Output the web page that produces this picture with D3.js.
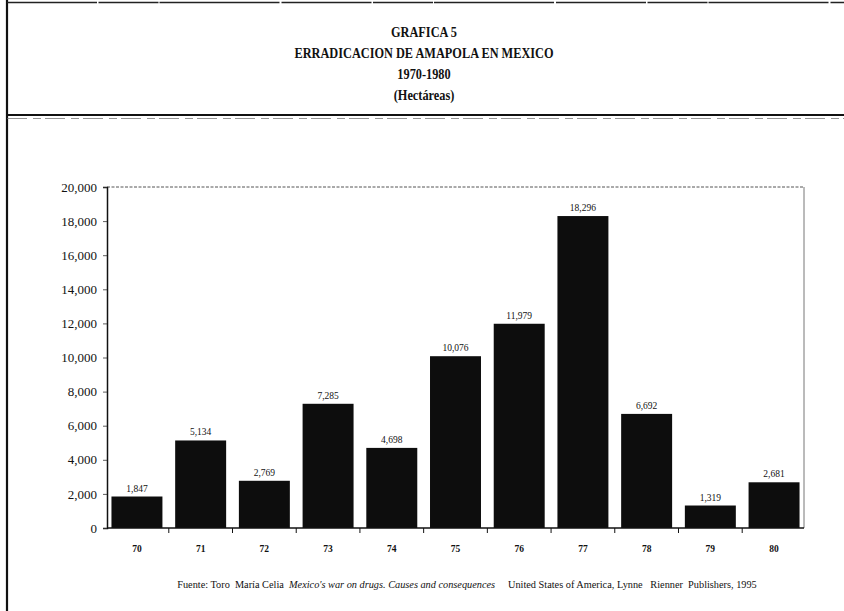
<!DOCTYPE html>
<html>
<head>
<meta charset="utf-8">
<script src="https://cdn.jsdelivr.net/npm/d3@7"></script>
<style>
  html, body { margin: 0; padding: 0; background: #fff; }
  svg { display: block; }
</style>
</head>
<body>
<svg id="chart" width="844" height="611"></svg>
<script>
// Erradicación de amapola en México, 1970-1980 (hectáreas)
const years = ["70", "71", "72", "73", "74", "75", "76", "77", "78", "79", "80"];
const hectares = [1847, 5134, 2769, 7285, 4698, 10076, 11979, 18296, 6692, 1319, 2681];
const yTicks = [0, 2000, 4000, 6000, 8000, 10000, 12000, 14000, 16000, 18000, 20000];
const titleLines = ["GRAFICA 5", "ERRADICACION DE AMAPOLA EN MEXICO", "1970-1980", "(Hectáreas)"];

const svg = d3.select("#chart");
const serif = "'Liberation Serif', 'DejaVu Serif', serif";
const ink = "#111";

// page frame: left rule, top rule and the double rule under the title block
svg.append("line").attr("x1", 7).attr("x2", 7).attr("y1", 0).attr("y2", 611)
  .attr("stroke", ink).attr("stroke-width", 2.2);
svg.append("line").attr("x1", 7).attr("x2", 844).attr("y1", 2.5).attr("y2", 2.5)
  .attr("stroke", "#222").attr("stroke-width", 1.3).attr("stroke-dasharray", "90,1.5,60,1,120,2");
svg.append("line").attr("x1", 7).attr("x2", 844).attr("y1", 115).attr("y2", 115)
  .attr("stroke", ink).attr("stroke-width", 2);
svg.append("line").attr("x1", 7).attr("x2", 844).attr("y1", 118.5).attr("y2", 118.5)
  .attr("stroke", "#666").attr("stroke-width", 0.7).attr("stroke-dasharray", "20,6,8,4");

// title block, set in a slightly condensed bold serif
svg.append("g").attr("transform", "translate(424,0) scale(0.88,1)")
  .selectAll("text").data(titleLines).join("text")
  .attr("x", 0).attr("y", (d, i) => 37 + i * 21)
  .attr("text-anchor", "middle")
  .attr("font-family", serif).attr("font-weight", "bold").attr("font-size", 14)
  .attr("fill", ink)
  .text(d => d);

// plot geometry
const plot = { left: 107, right: 804, top: 187, bottom: 528 };

const x = d3.scaleBand().domain(years)
  .range([plot.left, plot.right])
  .paddingInner(0.2).paddingOuter(0.07);
const y = d3.scaleLinear().domain([0, 20000]).range([plot.bottom, plot.top]);

// frame of the plot area: dotted top and thin right edge
svg.append("line").attr("x1", plot.left).attr("x2", plot.right)
  .attr("y1", plot.top).attr("y2", plot.top)
  .attr("stroke", "#555").attr("stroke-width", 1).attr("stroke-dasharray", "3,1.5");
svg.append("line").attr("x1", plot.right).attr("x2", plot.right)
  .attr("y1", plot.top).attr("y2", plot.bottom)
  .attr("stroke", "#777").attr("stroke-width", 1);

// bars
svg.append("g").selectAll("rect").data(years).join("rect")
  .attr("x", d => x(d))
  .attr("width", x.bandwidth())
  .attr("y", (d, i) => y(hectares[i]))
  .attr("height", (d, i) => y(0) - y(hectares[i]))
  .attr("fill", "#0d0d0d");

// value labels above each bar
const fmt = d3.format(",");
svg.append("g").selectAll("text").data(years).join("text")
  .attr("x", d => x(d) + x.bandwidth() / 2)
  .attr("y", (d, i) => y(hectares[i]) - 5)
  .attr("text-anchor", "middle")
  .attr("font-family", serif).attr("font-size", 9.5)
  .attr("fill", ink)
  .text((d, i) => fmt(hectares[i]));

// y axis
const yAxis = d3.axisLeft(y).tickValues(yTicks).tickSize(4).tickPadding(6)
  .tickFormat(d3.format(","));
const gy = svg.append("g").attr("transform", `translate(${plot.left},0)`).call(yAxis);
gy.select(".domain").attr("stroke", ink).attr("stroke-width", 1.5);
gy.selectAll(".tick line").attr("stroke", "#333").attr("stroke-width", 0.8);
gy.selectAll(".tick text").attr("font-family", serif).attr("font-size", 13).attr("fill", ink);

// x axis: ticks fall between categories
const gx = svg.append("g").attr("transform", `translate(0,${plot.bottom})`);
gx.append("line").attr("x1", plot.left).attr("x2", plot.right)
  .attr("y1", 0).attr("y2", 0).attr("stroke", ink).attr("stroke-width", 1.5);
const step = x.step();
const boundaries = years.slice(1).map(d => x(d) - (step - x.bandwidth()) / 2);
gx.selectAll("line.tick").data(boundaries).join("line").attr("class", "tick")
  .attr("x1", d => d).attr("x2", d => d).attr("y1", 0).attr("y2", 5)
  .attr("stroke", ink).attr("stroke-width", 1);
gx.selectAll("text").data(years).join("text")
  .attr("x", d => x(d) + x.bandwidth() / 2)
  .attr("y", 24)
  .attr("text-anchor", "middle")
  .attr("font-family", serif).attr("font-size", 9.5).attr("font-weight", "bold")
  .attr("fill", ink)
  .text(d => d);

// source note
const note = svg.append("text")
  .attr("x", 467).attr("y", 588)
  .attr("text-anchor", "middle")
  .attr("font-family", serif).attr("font-size", 10.3).attr("fill", ink)
  .attr("xml:space", "preserve");
note.append("tspan").text("Fuente: Toro  María Celia  ");
note.append("tspan").attr("font-style", "italic").text("Mexico's war on drugs. Causes and consequences");
note.append("tspan").text("     United States of America, Lynne   Rienner  Publishers, 1995");
</script>
</body>
</html>
